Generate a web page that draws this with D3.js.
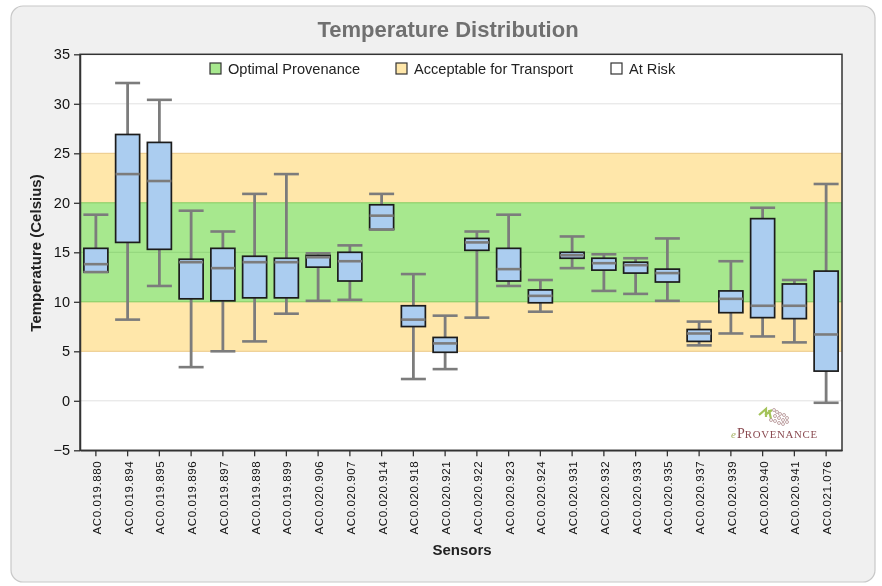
<!DOCTYPE html>
<html lang="en">
<head>
<meta charset="utf-8">
<title>Temperature Distribution</title>
<script src="https://d3js.org/d3.v7.min.js" charset="utf-8"></script>
<style type="text/css">
  html, body { margin: 0; padding: 0; background: #fff; }
  svg { display: block; font-family: "Liberation Sans", Arial, sans-serif; filter: blur(0.4px); }
</style>
</head>
<body>
<svg id="chart" width="882" height="586"></svg>
<script type="text/javascript">
// values
var sensors = ["AC0.019.880","AC0.019.894","AC0.019.895","AC0.019.896","AC0.019.897","AC0.019.898","AC0.019.899","AC0.020.906","AC0.020.907","AC0.020.914","AC0.020.918","AC0.020.921","AC0.020.922","AC0.020.923","AC0.020.924","AC0.020.931","AC0.020.932","AC0.020.933","AC0.020.935","AC0.020.937","AC0.020.939","AC0.020.940","AC0.020.941","AC0.021.076"];
var lows    = [13.0, 8.2,11.6, 3.4, 5.0, 6.0, 8.8,10.1,10.2,17.3, 2.2, 3.2, 8.4,11.6, 9.0,13.4,11.1,10.8,10.1, 5.6, 6.8, 6.5, 5.9,-0.2];
var q1s     = [13.0,16.0,15.3,10.3,10.1,10.4,10.4,13.5,12.1,17.3, 7.5, 4.9,15.2,12.1, 9.9,14.4,13.2,12.9,12.0, 6.0, 8.9, 8.4, 8.3, 3.0];
var medians = [13.8,22.9,22.2,14.0,13.4,14.0,14.0,14.5,14.1,18.7, 8.2, 5.8,16.0,13.3,10.6,14.7,13.9,13.7,12.9, 6.8,10.3, 9.6, 9.6, 6.7];
var q3s     = [15.4,26.9,26.1,14.3,15.4,14.6,14.4,14.7,15.0,19.8, 9.6, 6.4,16.4,15.4,11.2,15.0,14.4,14.0,13.3, 7.2,11.1,18.4,11.8,13.1];
var highs   = [18.8,32.1,30.4,19.2,17.1,20.9,22.9,14.9,15.7,20.9,12.8, 8.6,17.1,18.8,12.2,16.6,14.8,14.4,16.4, 8.0,14.1,19.5,12.2,21.9];

var yTicks = [-5,0,5,10,15,20,25,30,35];
var zoneNames   = ["Acceptable for Transport","Optimal Provenance"];
var zoneBottoms = [5,10];
var zoneTops    = [25,20];
var zoneFills   = ["#ffe7aa","#a7e88e"];

var legendNames = ["Optimal Provenance","Acceptable for Transport","At Risk"];
var legendFills = ["#a7e88e","#ffe7aa","#ffffff"];
var legendLeft  = [210,396,611];

var svg = d3.select("#chart");
var plot = {left: 80, right: 842, top: 54.3, bottom: 450.3};

var x = d3.scaleBand().domain(sensors).range([plot.left, plot.right]);
var y = d3.scaleLinear().domain([-5,35]).range([plot.bottom, plot.top]);
var boxW = 24;
var capW = 25;

// card
svg.append("rect").attr("x",11).attr("y",6).attr("width",864).attr("height",576)
  .attr("rx",12).attr("fill","#f0f0f0").attr("stroke","#c8c8c8").attr("stroke-width",1.2);

svg.append("text").attr("x",448).attr("y",37).attr("text-anchor","middle")
  .attr("font-size",22).attr("font-weight","bold").attr("fill","#707070").text("Temperature Distribution");

// plot background and zones
svg.append("rect").attr("x",plot.left).attr("y",plot.top)
  .attr("width",plot.right-plot.left).attr("height",plot.bottom-plot.top).attr("fill","#fff");

zoneNames.forEach(function(d,i){
  svg.append("rect").attr("x",plot.left).attr("width",plot.right-plot.left)
    .attr("y",y(zoneTops[i])).attr("height",y(zoneBottoms[i])-y(zoneTops[i]))
    .attr("fill",zoneFills[i]);
  [zoneTops[i],zoneBottoms[i]].forEach(function(v){
    svg.append("line").attr("x1",plot.left).attr("x2",plot.right).attr("y1",y(v)).attr("y2",y(v))
      .attr("stroke", i==0 ? "#ecc987" : "#84cc62").attr("stroke-width",1);
  });
});

// gridlines
svg.append("g").selectAll("line").data([0,15,30]).enter().append("line")
  .attr("x1",plot.left).attr("x2",plot.right)
  .attr("y1",function(d){return y(d);}).attr("y2",function(d){return y(d);})
  .attr("stroke",function(d){return d==15 ? "#93d47c" : "#e2e2e2";}).attr("stroke-width",1);

// whiskers + boxes
var grey = "#7c7c7c";
var g = svg.append("g").selectAll("g").data(sensors).enter().append("g")
  .attr("transform",function(d){return "translate("+(x(d)+x.bandwidth()/2)+",0)";});

g.append("line").attr("y1",function(d,i){return y(lows[i]);}).attr("y2",function(d,i){return y(highs[i]);})
  .attr("stroke",grey).attr("stroke-width",2.8);
g.append("rect").attr("x",-boxW/2).attr("width",boxW)
  .attr("y",function(d,i){return y(q3s[i]);})
  .attr("height",function(d,i){return y(q1s[i])-y(q3s[i]);})
  .attr("fill","#abcdf0").attr("stroke","#1c1c1c").attr("stroke-width",1.7);
[lows,highs].forEach(function(arr){
  g.append("line").attr("x1",-capW/2).attr("x2",capW/2)
    .attr("y1",function(d,i){return y(arr[i]);}).attr("y2",function(d,i){return y(arr[i]);})
    .attr("stroke",grey).attr("stroke-width",2.6);
});
g.append("line").attr("x1",-boxW/2).attr("x2",boxW/2)
  .attr("y1",function(d,i){return y(medians[i]);}).attr("y2",function(d,i){return y(medians[i]);})
  .attr("stroke",grey).attr("stroke-width",2.6);

// plot frame
svg.append("rect").attr("x",plot.left).attr("y",plot.top)
  .attr("width",plot.right-plot.left).attr("height",plot.bottom-plot.top)
  .attr("fill","none").attr("stroke","#333").attr("stroke-width",1.5);

// axes
var yAxis = svg.append("g").attr("transform","translate("+plot.left+",0)")
  .call(d3.axisLeft(y).tickValues(yTicks).tickSize(6).tickSizeOuter(0).tickPadding(4).tickFormat(function(d){return d<0 ? "\u2212"+(-d) : d;}));
yAxis.selectAll("text").attr("font-size",14.5).attr("font-family","'Liberation Sans', Arial, sans-serif").attr("fill","#111");

var xAxis = svg.append("g").attr("transform","translate(0,"+plot.bottom+")")
  .call(d3.axisBottom(x).tickSize(6).tickSizeOuter(0).tickPadding(0));
xAxis.selectAll("text").attr("font-size",11.5).attr("letter-spacing",0.6).attr("font-family","'Liberation Sans', Arial, sans-serif").attr("fill","#111")
  .attr("text-anchor","end").attr("dy",null)
  .attr("transform","translate(5,10.5) rotate(-90)").attr("x",0).attr("y",0);
svg.selectAll(".domain").attr("stroke","#333").attr("stroke-width",1.5);
svg.selectAll(".tick line").attr("stroke","#333").attr("stroke-width",1.3);

svg.append("text").attr("transform","translate(41,253) rotate(-90)").attr("text-anchor","middle")
  .attr("font-size",15).attr("font-weight","bold").attr("fill","#222").text("Temperature (Celsius)");
svg.append("text").attr("x",462).attr("y",555).attr("text-anchor","middle")
  .attr("font-size",15).attr("font-weight","bold").attr("fill","#222").text("Sensors");

// legend
legendNames.forEach(function(d,i){
  svg.append("rect").attr("x",legendLeft[i]).attr("y",63).attr("width",11).attr("height",11)
    .attr("fill",legendFills[i]).attr("stroke","#333").attr("stroke-width",1.2);
  svg.append("text").attr("x",legendLeft[i]+18).attr("y",74).attr("font-size",14.6)
    .attr("fill","#222").text(d);
});

// logo
var logo = svg.append("g");
logo.append("path").attr("d","M759 415 L766 409 L766 417 M765 415 L772 410 M769 410 L771 419")
  .attr("stroke","#a4c35a").attr("stroke-width",2.2).attr("fill","none");
logo.selectAll("circle").data([[774,410],[777,412],[780,414],[784,415],[787,418],[775,416],[779,418],[783,420],[787,422],[771,420],[775,421],[779,423],[783,424]])
  .enter().append("circle").attr("cx",function(d){return d[0];}).attr("cy",function(d){return d[1];}).attr("r",1.5)
  .attr("fill","none").attr("stroke","#b99a9c").attr("stroke-width",.9);
logo.append("text").attr("x",731).attr("y",438).attr("font-family","'Liberation Serif', serif").attr("font-size",11)
  .attr("font-style","italic").attr("fill","#a4b060").text("e");
var brand = logo.append("text").attr("x",737).attr("y",438).attr("font-family","'Liberation Serif', serif").attr("fill","#8a4a50");
brand.append("tspan").attr("font-size",14).text("P");
brand.append("tspan").attr("font-size",10.8).attr("letter-spacing",0.7).text("ROVENANCE");
</script>
</body>
</html>
